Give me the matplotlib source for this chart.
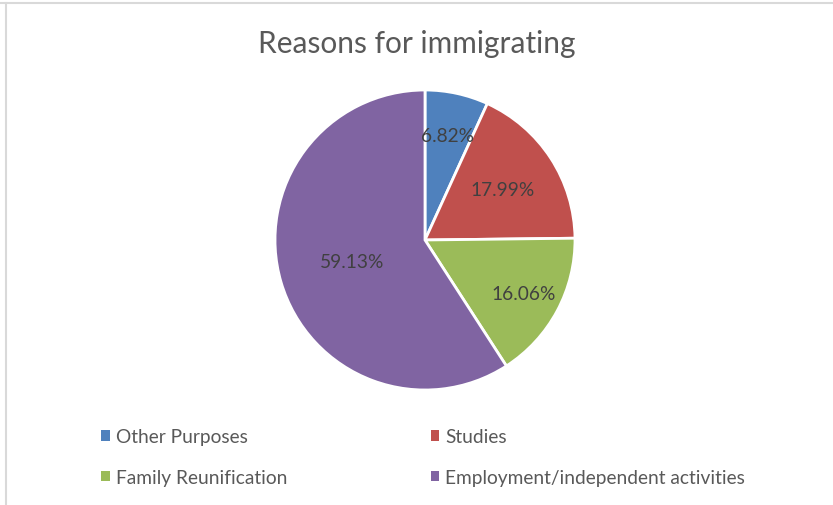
import matplotlib.pyplot as plt
import numpy as np
from matplotlib.patches import Patch
from matplotlib.lines import Line2D

plt.rcParams['font.family'] = ['Lato', 'DejaVu Sans']

categories = ['Other Purposes', 'Studies', 'Family Reunification',
              'Employment/independent activities']
shares = [6.82, 17.99, 16.06, 59.13]
colors = ['#4F81BD', '#C0504D', '#9BBB59', '#8064A2']
# radial position of each percentage label (fraction of radius)
label_dist = [0.71, 0.62, 0.75, 0.51]

fig = plt.figure(figsize=(8.33, 5.06), dpi=100)

# pie area: centre ~ (425, 241) px, radius ~150 px
ax = fig.add_axes([275 / 833, (506 - 391) / 506, 300 / 833, 300 / 506])
wedges, _ = ax.pie(shares, colors=colors, startangle=90, counterclock=False,
                   wedgeprops=dict(edgecolor='white', linewidth=2))
ax.set_xlim(-1, 1)
ax.set_ylim(-1, 1)
ax.set_aspect('equal')

for w, val, d in zip(wedges, shares, label_dist):
    ang = np.deg2rad((w.theta1 + w.theta2) / 2)
    ax.text(d * np.cos(ang), d * np.sin(ang), '{:.2f}%'.format(val),
            ha='center', va='center', fontsize=13.8, color='#404040')

fig.text(0.5, 1 - 44 / 506, 'Reasons for immigrating', ha='center', va='center',
         fontsize=21.5, color='#595959')

# legend filled row by row (matplotlib fills columns first)
order = [0, 2, 1, 3]
handles = [Patch(facecolor=colors[i], edgecolor='none') for i in order]
labels = [categories[i] for i in order]
leg = fig.legend(handles, labels, ncol=2, loc='upper left',
                 bbox_to_anchor=(84 / 833, 1 - 412 / 506), frameon=False,
                 fontsize=13.8, labelcolor='#595959', handlelength=0.45,
                 handleheight=0.45, handletextpad=0.3, labelspacing=1.22,
                 columnspacing=7.5)

# light chart border (top and left edges visible)
fig.add_artist(Line2D([0, 1], [1 - 3.5 / 506] * 2, color='#d9d9d9', lw=1.5))
fig.add_artist(Line2D([5.5 / 833] * 2, [0, 1 - 3.5 / 506], color='#d9d9d9', lw=1.5))

plt.savefig('out.png', dpi=100)
